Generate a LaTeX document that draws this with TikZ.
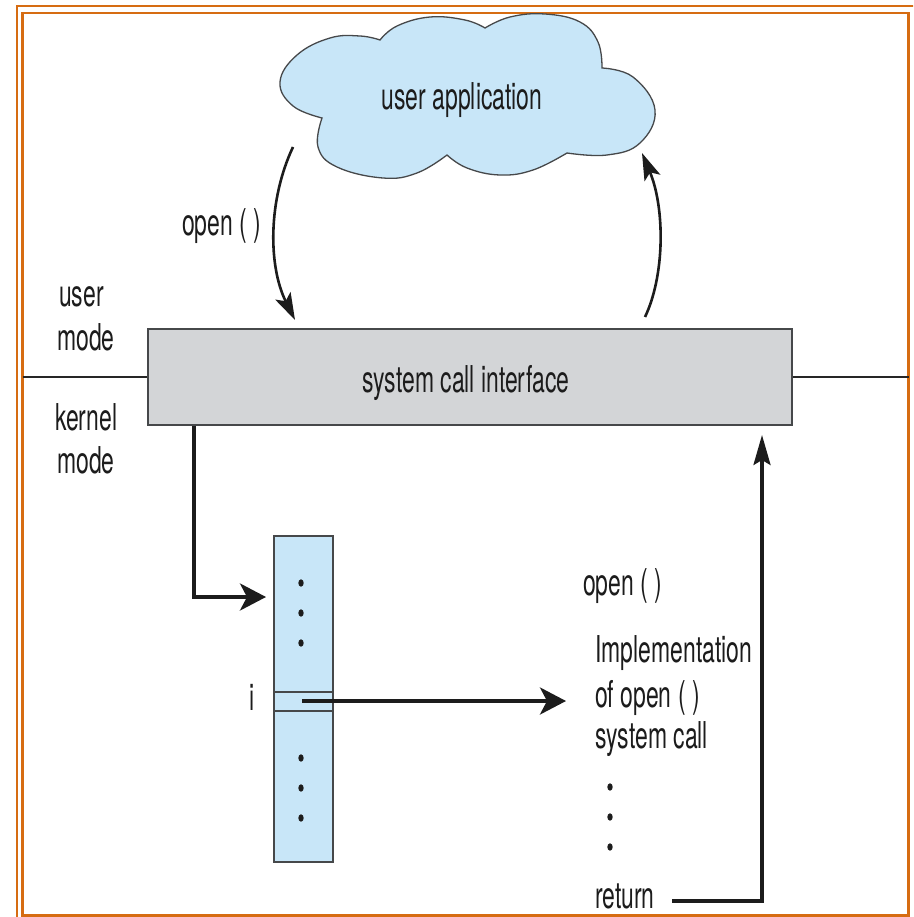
\documentclass[tikz,border=0pt]{standalone}
\usepackage{fontspec}
\setmainfont{TeX Gyre Heros}[FakeStretch=0.62]
\usetikzlibrary{arrows.meta}
\definecolor{framec}{RGB}{214,108,18}
\definecolor{bluec}{RGB}{200,230,248}
\definecolor{grayc}{RGB}{211,213,215}
\definecolor{edgec}{RGB}{70,72,74}
\definecolor{textc}{RGB}{28,28,28}
\tikzset{
  txt/.style={inner sep=0pt, font=\fontsize{37}{43}\selectfont, text=textc},
  cloudst/.style={fill=bluec, draw=edgec, line width=1.3pt},
  boxst/.style={fill=grayc, draw=edgec, line width=1.4pt, minimum width=644pt, minimum height=96pt, inner sep=0pt},
  tblst/.style={fill=bluec, draw=edgec, line width=1.4pt, minimum width=59pt, minimum height=326pt, inner sep=0pt},
  frameline/.style={draw=framec, line width=2.6pt},
  modeline/.style={draw=black!85, line width=1.3pt},
  bold/.style={draw=textc, line width=3.6pt, -{Stealth[length=26pt,width=27pt,inset=7pt]}},
  retst/.style={draw=textc, line width=3.2pt, -{Stealth[length=30pt,width=17pt,inset=5pt]}},
  curvst/.style={draw=textc, line width=2.6pt, -{Stealth[length=27pt,width=17pt,inset=6pt]}},
  dotst/.style={fill=textc, draw=none},
}
\begin{document}
\begin{tikzpicture}[x=1pt,y=-1pt]
\clip (0,0) rectangle (913,917);
\fill[white] (0,0) rectangle (913,917);
% frame
\draw[frameline] (17,6) rectangle (960,960);
\draw[frameline] (22.5,13) rectangle (908.5,915.5);
% cloud
\draw[cloudst]
  plot[smooth,tension=0.7] coordinates {(380,40) (397,26) (430,17) (465,20) (485,28)}
  -- plot[smooth,tension=0.7] coordinates {(485,28) (510,17) (545,14) (580,22) (598,42) (602,68)}
  -- plot[smooth,tension=0.7] coordinates {(602,68) (633,77) (655,110) (640,143) (607,155) (567,153)}
  -- plot[smooth,tension=0.7] coordinates {(567,153) (533,170) (500,175) (467,168) (447,155)}
  -- plot[smooth,tension=0.7] coordinates {(447,155) (417,173) (383,178) (337,167) (318,147) (322,118)}
  -- plot[smooth,tension=0.7] coordinates {(322,118) (293,106) (280,82) (297,55) (330,38) (360,36) (380,40)}
  -- cycle;
\node[txt, anchor=base] (ua) at (462,110) {user application};
% system call interface
\node[boxst] (sci) at (470,377) {};
\node[txt, anchor=base west] (scit) at (362,392) {system call interface};
\draw[modeline] (22.5,377) -- (sci.west);
\draw[modeline] (sci.east) -- (908.5,377);
% mode labels
\node[txt, anchor=base west] (um1) at (59,306) {user};
\node[txt, anchor=base west] (um2) at (57,350) {mode};
\node[txt, anchor=base west] (km1) at (55,430) {kernel};
\node[txt, anchor=base west] (km2) at (57,473) {mode};
% curved arrows
\coordinate (c1s) at (293,147);
\coordinate (c1e) at (295,320);
\coordinate (c2s) at (645,317);
\coordinate (c2e) at (642,153);
\draw[curvst] (c1s) .. controls (268,200) and (268,266) .. (c1e);
\draw[curvst] (c2s) .. controls (665,275) and (665,208) .. (c2e);
\node[txt, anchor=base west] (op1) at (182,235) {open ( )};
% table
\node[tblst] (tbl) at (303.5,699) {};
\draw[edgec, line width=1.4pt] (274,692) -- (333,692);
\draw[edgec, line width=1.4pt] (274,711) -- (333,711);
\foreach \yy in {583,613,643,758,788,818} {
  \fill[dotst] (301,\yy) ellipse [x radius=2.7pt, y radius=3.7pt];
}
\node[txt, anchor=base west] (iv) at (249,710) {i};
% arrow sci -> table
\coordinate (v1) at (194,597);
\coordinate (t1) at (266,597);
\draw[bold] (v1 |- sci.south) -- (v1) -- (t1);
% arrow table row -> implementation
\coordinate (r1) at (302,701);
\coordinate (impl) at (566,701);
\draw[bold] (r1) -- (impl);
% right texts
\node[txt, anchor=base west] (op2) at (583,595) {open ( )};
\node[txt, anchor=base west] (im1) at (595,662) {Implementation};
\node[txt, anchor=base west] (im2) at (595,707) {of open ( )};
\node[txt, anchor=base west] (im3) at (595,748) {system call};
\foreach \yy in {787,817,847} {
  \fill[dotst] (610,\yy) ellipse [x radius=2.7pt, y radius=3.7pt];
}
\node[txt, anchor=base west] (ret) at (595,908) {return};
% return arrow
\coordinate (rs) at (672,901);
\coordinate (rc) at (762,901);
\coordinate (rt) at (762,435);
\draw[retst] (rs) -- (rc) -- (rt);
\end{tikzpicture}
\end{document}
